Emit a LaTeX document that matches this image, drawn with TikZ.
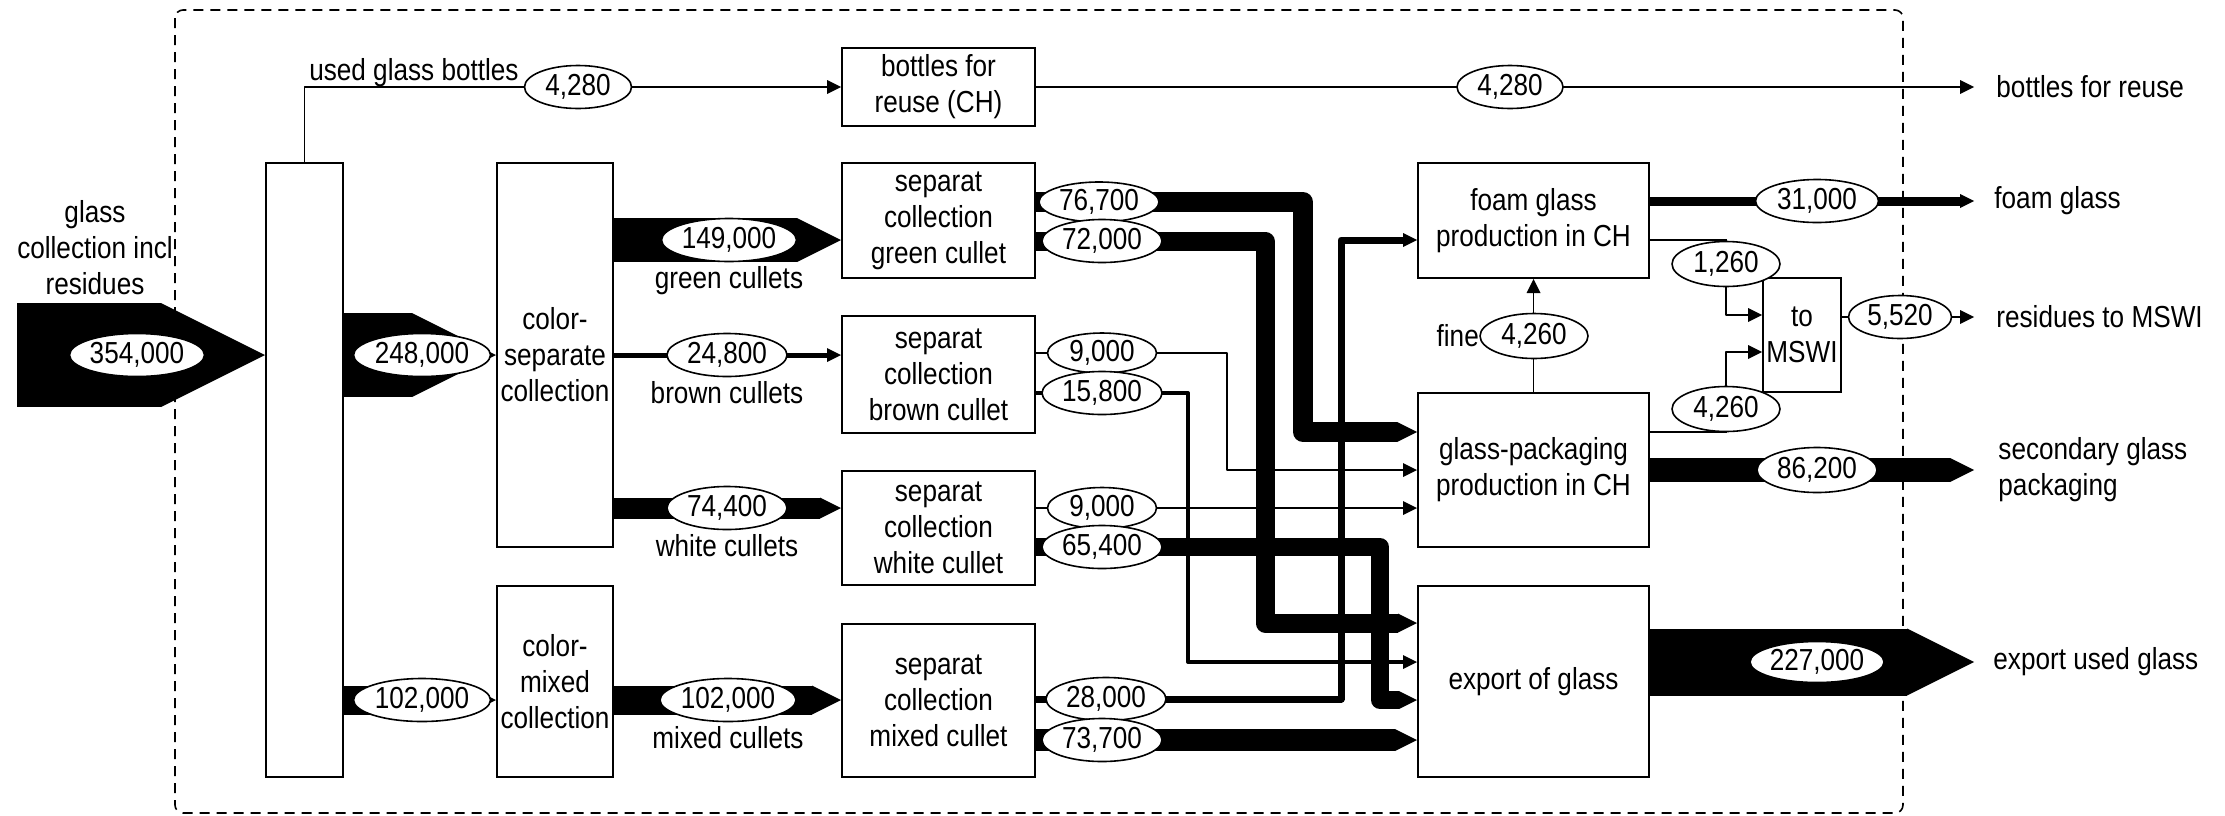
\documentclass[tikz,border=0pt]{standalone}
\usepackage{fontspec}
\setmainfont{Liberation Sans}[FakeStretch=0.86]
\usepackage{tikz}
\usetikzlibrary {positioning,shapes.geometric,arrows.meta}
\pgfdeclarelayer{back}
\pgfsetlayers{back,main}
\newcommand{\flowfont}{\fontsize{15.2pt}{18pt}\selectfont}
\tikzset{
  box/.style={draw, line width=1pt, fill=white, inner sep=0pt, align=center},
  lab/.style={shape=ellipse, draw, line width=0.8pt, fill=white, inner sep=0pt,
    minimum width=60pt, minimum height=21.5pt},
  txt/.style={inner sep=0pt, align=center},
  band/.style={line width=#1, line join=round,
    -{Triangle[length=#1, width=#1, line width=0pt]}},
  rod/.style={line width=#1, line join=round,
    -{Triangle[length=7pt, width=7pt, line width=0pt]}},
}

\begin{document}
\begin{tikzpicture}[x=0.5pt, y=-0.5pt, font=\flowfont]
\useasboundingbox (0,0) rectangle (2225,815);

\node[box, minimum width=38.5pt, minimum height=307pt] (col) at (304.5,470) {};
\node[box, minimum width=58pt, minimum height=192pt] (sep) at (555,355) {color-\\separate\\collection};
\node[box, minimum width=58pt, minimum height=95.5pt] (mix) at (555,681.5) {color-\\mixed\\collection};
\node[box, minimum width=96.5pt, minimum height=39pt] (reu) at (938.5,87) {bottles for\\reuse (CH)};
\node[box, minimum width=96.5pt, minimum height=57.5pt] (sg) at (938.5,220.5) {separat\\collection\\green cullet};
\node[box, minimum width=96.5pt, minimum height=58.5pt] (sb) at (938.5,374.5) {separat\\collection\\brown cullet};
\node[box, minimum width=96.5pt, minimum height=57pt] (sw) at (938.5,528) {separat\\collection\\white cullet};
\node[box, minimum width=96.5pt, minimum height=76.5pt] (sm) at (938.5,700.5) {separat\\collection\\mixed cullet};
\node[box, minimum width=115.5pt, minimum height=57.5pt] (foam) at (1533.5,220.5) {foam glass\\production in CH};
\node[box, minimum width=115.5pt, minimum height=77pt] (gp) at (1533.5,470) {glass-packaging\\production in CH};
\node[box, minimum width=115.5pt, minimum height=95.5pt] (ex) at (1533.5,681.5) {export of glass};
\node[box, minimum width=39pt, minimum height=57pt] (msw) at (1802,335) {to\\MSWI};

\node[lab, minimum width=67.5pt] (v354) at (137,355) {354,000};
\node[lab, minimum width=68.5pt] (v248) at (422,355) {248,000};
\node[lab, minimum width=68.5pt] (v102a) at (422,700) {102,000};
\node[lab, minimum width=53.5pt] (v4280a) at (578,87) {4,280};
\node[lab, minimum width=67.5pt] (v149) at (729,240) {149,000};
\node[lab] (v248b) at (727,355) {24,800};
\node[lab] (v744) at (727,508) {74,400};
\node[lab, minimum width=68pt] (v102b) at (728,700) {102,000};
\node[lab, minimum height=20pt] (v767) at (1099,202) {76,700};
\node[lab] (v720) at (1102,241) {72,000};
\node[lab, minimum width=54.5pt, minimum height=20pt] (v90b) at (1102,353) {9,000};
\node[lab] (v158) at (1102,393) {15,800};
\node[lab, minimum width=54.5pt, minimum height=20.5pt] (v90w) at (1102,508) {9,000};
\node[lab] (v654) at (1102,547) {65,400};
\node[lab] (v280) at (1106,699) {28,000};
\node[lab] (v737) at (1102,740) {73,700};
\node[lab, minimum width=53pt] (v4280b) at (1510,87) {4,280};
\node[lab, minimum width=54pt, minimum height=22.5pt] (v4260) at (1534,336) {4,260};
\node[lab, minimum width=61.5pt] (v310) at (1817,201) {31,000};
\node[lab, minimum width=54pt, minimum height=22.5pt] (v126) at (1726,264) {1,260};
\node[lab, minimum width=54pt, minimum height=22.5pt] (v426) at (1726,409) {4,260};
\node[lab, minimum width=51.5pt] (v552) at (1900,317) {5,520};
\node[lab, minimum height=22.5pt] (v862) at (1817,470) {86,200};
\node[lab, minimum width=67pt, minimum height=20.5pt] (v227) at (1817,662) {227,000};

\coordinate (in) at (17,355);
\coordinate (o1) at (1974,87);
\coordinate (o2) at (1974,201);
\coordinate (o3) at (1974,317);
\coordinate (o4) at (1974,470);
\coordinate (o5) at (1974,662);

\node[txt] (tin) at (95,248) {glass\\collection incl\\residues};
\node[txt, anchor=base east] (tub) at (519,80) {used glass bottles};
\node[txt, below=2pt of v149] (tg) {green cullets};
\node[txt, below=2pt of v248b] (tb) {brown cullets};
\node[txt, below=2pt of v744] (tw) {white cullets};
\node[txt, below=2pt of v102b] (tm) {mixed cullets};
\node[txt, left=0pt of v4260] (tf) {fine};
\node[txt, right=11pt of o1] (t1) {bottles for reuse};
\node[txt, right=10pt of o2] (t2) {foam glass};
\node[txt, right=11pt of o3] (t3) {residues to MSWI};
\node[txt, align=left, right=12pt of o4] (t4) {secondary glass\\packaging};
\node[txt, right=9.5pt of o5] (t5) {export used glass};

\begin{pgfonlayer}{back}
\draw[dashed, dash pattern=on 5pt off 3.5pt, line width=0.8pt, rounded corners=4pt] (175,10) rectangle (1903,813);

\draw[band=52pt] (in) -- (col.west |- in);
\draw[band=42pt] (col.east |- v248) -- (sep.west |- v248);
\draw[band=14.5pt] (col.east |- v102a) -- (mix.west |- v102a);
\draw[rod=0.9pt] (col.north) |- (reu.west);
\draw[rod=0.9pt] (reu.east) -- (o1);

\draw[band=22pt] (sep.east |- v149) -- (sg.west |- v149);
\draw[rod=2.5pt] (sep.east |- v248b) -- (sb.west |- v248b);
\draw[band=10.5pt] (sep.east |- v744) -- (sw.west |- v744);
\draw[band=14.5pt] (mix.east |- v102b) -- (sm.west |- v102b);

\draw[band=10pt] (sg.east |- v767) -| (1303,432) -- ([yshift=19pt]gp.west);
\draw[band=9.5pt] (sg.east |- v720) -| (1265,623) -- ([yshift=29.25pt]ex.west);
\draw[rod=0.9pt] (sb.east |- v90b) -| (1227,470) -- (gp.west);
\draw[rod=2pt] (sb.east |- v158) -| (1188,662) -- ([yshift=9.75pt]ex.west);
\draw[rod=0.9pt] (sw.east |- v90w) -- (gp.west |- v90w);
\draw[band=9pt] (sw.east |- v654) -| (1380,700) -- ([yshift=-9.25pt]ex.west);
\draw[rod=3.5pt] (sm.east |- v280) -| (1341,240) -- ([yshift=-9.75pt]foam.west);
\draw[band=11pt] (sm.east |- v737) -- (ex.west |- v737);

\draw[rod=0.9pt] (gp.north) -- (foam.south);
\draw[rod=4.5pt] (foam.east |- v310) -- (o2);
\draw[line width=0.9pt] ([yshift=-9.75pt]foam.east) -| (v126.north);
\draw[rod=0.9pt] (v126.south) |- ([yshift=10pt]msw.west);
\draw[line width=0.9pt] ([yshift=19pt]gp.east) -| (v426.south);
\draw[rod=0.9pt] (v426.north) |- ([yshift=-8.5pt]msw.west);
\draw[rod=0.9pt] (msw.east |- v552) -- (o3);
\draw[band=12pt] (gp.east |- v862) -- (o4);
\draw[band=33.5pt] (ex.east |- v227) -- (o5);
\end{pgfonlayer}

\end{tikzpicture}
\end{document}
